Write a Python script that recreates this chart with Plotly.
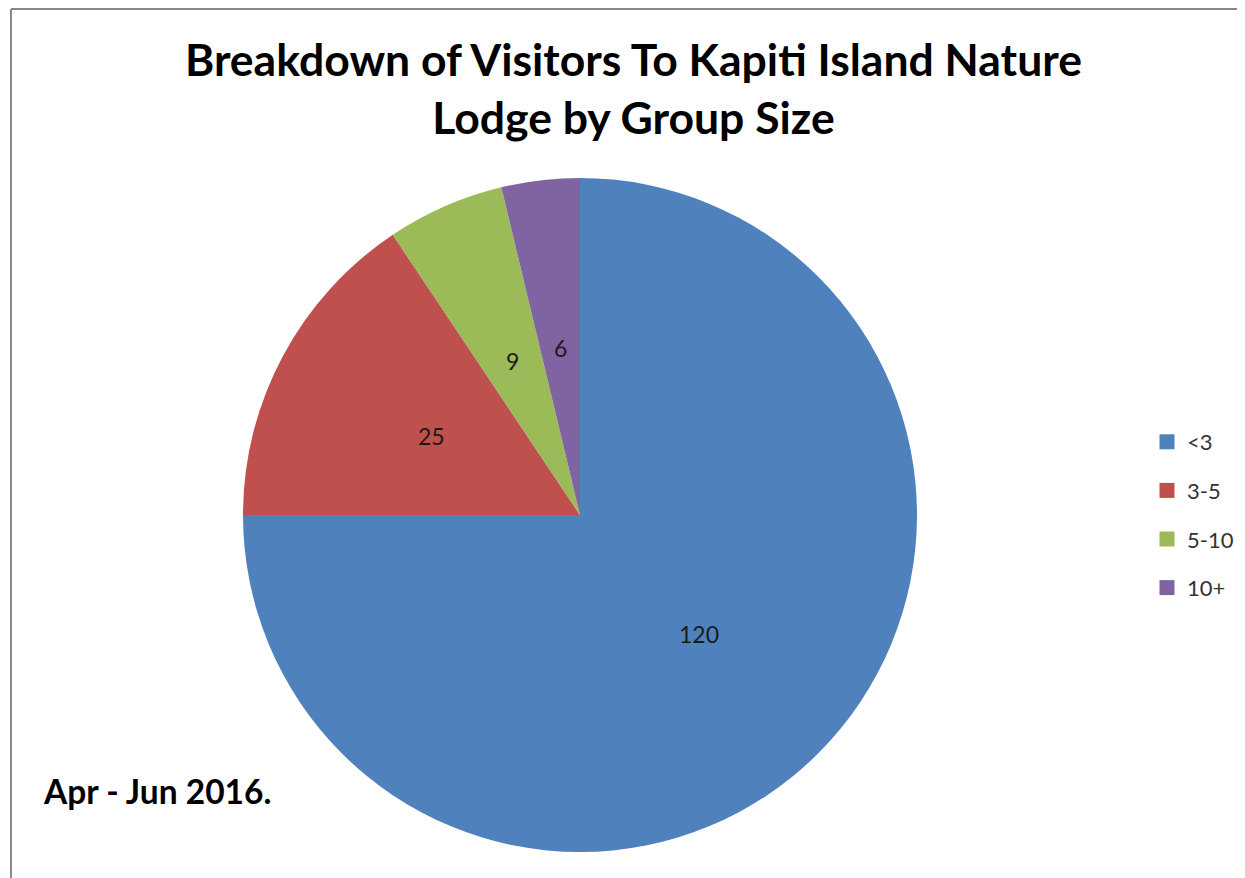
import math
import plotly.graph_objects as go

categories = ["<3", "3-5", "5-10", "10+"]
visitors = [120, 25, 9, 6]
colors = ["#4F81BD", "#C0504D", "#9BBB59", "#8064A2"]

W, H = 1245, 878
OFF = 8  # page body margin
FW, FH = W - OFF, H - OFF
cx, cy, r = 580, 515, 337


def px(x):
    return (x - OFF) / FW


def py(y):
    return 1 - (y - OFF) / FH


fig = go.Figure()
fig.add_trace(go.Pie(
    labels=categories, values=visitors, sort=False, direction="clockwise", rotation=0,
    marker=dict(colors=colors, line=dict(width=0)),
    textinfo="none",
    domain=dict(x=[px(cx - r), px(cx + r)], y=[py(cy + r), py(cy - r)]),
    showlegend=False, hoverinfo="label+value",
))
for cat, col in zip(categories, colors):
    fig.add_trace(go.Scatter(
        x=[None], y=[None], mode="markers", name=cat, legendgroup=cat,
        marker=dict(symbol="square", size=15, color=col),
    ))

# data labels at half radius, at each slice's mid-angle
annotations = []
total = sum(visitors)
cum = 0
for v in visitors:
    mid = (cum + v / 2) / total * 2 * math.pi
    cum += v
    lx = cx + 0.5 * r * math.sin(mid)
    ly = cy - 0.5 * r * math.cos(mid)
    annotations.append(dict(text=str(v), x=px(lx), y=py(ly), xref="paper", yref="paper",
                            showarrow=False, xanchor="center", yanchor="middle",
                            font=dict(family="Lato", size=23, color="#1a1a1a")))

annotations += [
    dict(text="Breakdown of Visitors To Kapiti Island Nature<br>Lodge by Group Size",
         x=px(634), y=py(87), xref="paper", yref="paper", showarrow=False,
         xanchor="center", yanchor="middle",
         font=dict(family="Lato", size=44.5, color="black", weight="bold")),
    dict(text="<b>Apr - Jun 2016.</b>", x=px(41), y=py(791), xref="paper", yref="paper",
         showarrow=False, xanchor="left", yanchor="middle",
         font=dict(family="Lato", size=33.5, color="black")),
]

fig.update_layout(
    width=FW, height=FH, margin=dict(l=0, r=0, t=0, b=0),
    paper_bgcolor="white", plot_bgcolor="white",
    xaxis=dict(visible=False), yaxis=dict(visible=False),
    legend=dict(x=px(1147), y=py(421), xanchor="left", yanchor="top",
                font=dict(family="Lato", size=22, color="#333"),
                tracegroupgap=17, itemwidth=30, bgcolor="rgba(0,0,0,0)"),
    annotations=annotations,
    shapes=[
        dict(type="line", xref="paper", yref="paper", x0=px(11), x1=1, y0=py(9), y1=py(9),
             line=dict(color="#888", width=2)),
        dict(type="line", xref="paper", yref="paper", x0=px(11), x1=px(11), y0=0, y1=py(9),
             line=dict(color="#888", width=2)),
    ],
)

fig.write_html("out.html")
